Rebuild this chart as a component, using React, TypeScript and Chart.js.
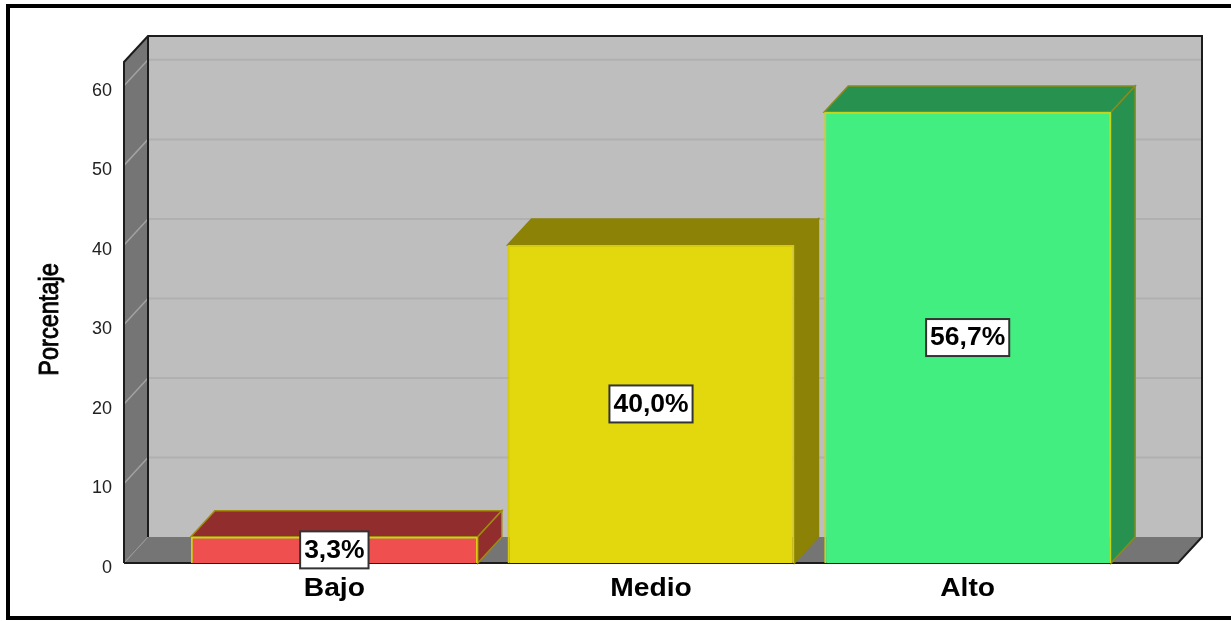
import React, { useEffect, useRef } from "react";
import { Chart, registerables } from "chart.js";

Chart.register(...registerables);

// Data
const categories = ["Bajo", "Medio", "Alto"];
const percentages = [3.3, 40.0, 56.7];
const yTicksStep = 10;
const yMax = 63;
const yTitle = "Porcentaje";

// Colours per bar
const frontColors = ["#ef4f4f", "#e3d80d", "#41ee7f"];
const sideColors = ["#912d2d", "#8c8206", "#27924f"];
const frontEdges = ["#e0c814", "#d6ca0c", "#c4d41c"];
const sideEdges = ["#a08a10", "#8c8206", "#8c8a1a"];

// Extruded look: how far the back plane sits from the front plane
const DEPTH_X = 24;
const DEPTH_Y = 26;
// The walls reach past the category band on both sides
const WALL_PAD = 52;

const SANS = '"Liberation Sans", Arial, sans-serif';

function poly(ctx: CanvasRenderingContext2D, pts: number[][], fill?: string, stroke?: string, lw = 1) {
  ctx.beginPath();
  pts.forEach(([x, y], i) => (i ? ctx.lineTo(x, y) : ctx.moveTo(x, y)));
  if (fill) {
    ctx.closePath();
    ctx.fillStyle = fill;
    ctx.fill();
  }
  if (stroke) {
    ctx.strokeStyle = stroke;
    ctx.lineWidth = lw;
    ctx.stroke();
  }
}

function stretchedText(
  ctx: CanvasRenderingContext2D,
  text: string,
  x: number,
  y: number,
  font: string,
  sx: number,
) {
  ctx.save();
  ctx.translate(x, y);
  ctx.scale(sx, 1);
  ctx.font = font;
  ctx.fillStyle = "#000";
  ctx.textAlign = "center";
  ctx.textBaseline = "middle";
  ctx.fillText(text, 0, 0);
  ctx.restore();
}

const box3d = {
  id: "box3d",
  beforeDatasetsDraw(chart: any) {
    const { ctx, chartArea, scales } = chart;
    const yScale = scales.y;
    const left = chartArea.left - WALL_PAD;
    const right = chartArea.right + WALL_PAD;
    const top = chartArea.top;
    const bottom = chartArea.bottom;
    const dx = DEPTH_X;
    const dy = DEPTH_Y;

    ctx.save();
    // back wall, left wall, floor
    poly(ctx, [[left + dx, top - dy], [right + dx, top - dy], [right + dx, bottom - dy], [left + dx, bottom - dy]], "#bebebe");
    poly(ctx, [[left, top], [left + dx, top - dy], [left + dx, bottom - dy], [left, bottom]], "#757575");
    poly(ctx, [[left, bottom], [left + dx, bottom - dy], [right + dx, bottom - dy], [right, bottom]], "#757575");

    // grid lines follow the wall and then the back plane
    yScale.ticks.forEach((t: any) => {
      if (t.value === 0) return;
      const y = yScale.getPixelForValue(t.value);
      poly(ctx, [[left, y], [left + dx, y - dy]], undefined, "#a2a2a2", 1.5);
      poly(ctx, [[left + dx, y - dy], [right + dx, y - dy]], undefined, "#b0b0b0", 2);
    });
    poly(ctx, [[left, bottom], [left + dx, bottom - dy]], undefined, "#999999", 1);

    // dark outline of the box
    const edge = "#1c1c1c";
    poly(ctx, [[left, bottom], [left, top], [left + dx, top - dy], [right + dx, top - dy], [right + dx, bottom - dy], [right, bottom], [left, bottom]], undefined, edge, 2);
    poly(ctx, [[left + dx, top - dy], [left + dx, bottom - dy]], undefined, edge, 2);

    // top and side faces of each bar
    const bars = chart.getDatasetMeta(0).data;
    bars.forEach((bar: any, i: number) => {
      const { x, y, width, base } = bar.getProps(["x", "y", "width", "base"], true);
      const l = x - width / 2;
      const r = x + width / 2;
      poly(ctx, [[l, y], [l + dx, y - dy], [r + dx, y - dy], [r, y]], sideColors[i], sideEdges[i], 1.5);
      poly(ctx, [[r, y], [r + dx, y - dy], [r + dx, base - dy], [r, base]], sideColors[i], sideEdges[i], 1.5);
    });
    ctx.restore();
  },
  afterDatasetsDraw(chart: any) {
    const { ctx, scales, chartArea } = chart;
    const bars = chart.getDatasetMeta(0).data;

    // value labels in white boxes at the middle of each bar
    const labelFont = `bold 25px ${SANS}`;
    percentages.forEach((v, i) => {
      const { x, y, base } = bars[i].getProps(["x", "y", "base"], true);
      const text = `${v.toFixed(1).replace(".", ",")}%`;
      const cy = (y + base) / 2;
      ctx.save();
      ctx.font = labelFont;
      const w = ctx.measureText(text).width * 1.06 + 8;
      const h = 37;
      ctx.fillStyle = "#ffffff";
      ctx.strokeStyle = "#333333";
      ctx.lineWidth = 2;
      ctx.fillRect(x - w / 2, cy - h / 2, w, h);
      ctx.strokeRect(x - w / 2, cy - h / 2, w, h);
      ctx.restore();
      stretchedText(ctx, text, x, cy + 1, labelFont, 1.06);
    });

    // category labels under the floor
    scales.x.ticks.forEach((_: any, i: number) => {
      stretchedText(ctx, scales.x.getLabelForValue(i), scales.x.getPixelForTick(i), chartArea.bottom + 26, `bold 25px ${SANS}`, 1.13);
    });

    // narrow, tall axis title
    ctx.save();
    ctx.translate(50, (chartArea.top + chartArea.bottom) / 2 + 7);
    ctx.rotate(-Math.PI / 2);
    ctx.scale(0.84, 1);
    ctx.font = `28px ${SANS}`;
    ctx.fillStyle = "#000";
    ctx.strokeStyle = "#000";
    ctx.lineWidth = 0.9;
    ctx.textAlign = "center";
    ctx.textBaseline = "middle";
    ctx.fillText(yTitle, 0, 0);
    ctx.strokeText(yTitle, 0, 0);
    ctx.restore();
  },
};

export default function App() {
  const ref = useRef<HTMLCanvasElement>(null);

  useEffect(() => {
    const chart = new Chart(ref.current!, {
      type: "bar",
      data: {
        labels: categories,
        datasets: [
          {
            data: percentages,
            backgroundColor: frontColors,
            borderColor: frontEdges,
            borderWidth: 2,
            categoryPercentage: 1,
            barPercentage: 0.906,
          },
        ],
      },
      options: {
        animation: false,
        responsive: false,
        maintainAspectRatio: false,
        layout: { padding: { top: 62, right: 105, left: 0, bottom: 0 } },
        plugins: { legend: { display: false }, tooltip: { enabled: false }, title: { display: false } },
        scales: {
          x: {
            grid: { display: false, drawTicks: false },
            border: { display: false },
            ticks: { display: false },
            afterFit: (s: any) => {
              s.height = 58;
            },
          },
          y: {
            min: 0,
            max: yMax,
            grid: { display: false, drawTicks: false },
            border: { display: false },
            ticks: {
              stepSize: yTicksStep,
              includeBounds: false,
              padding: 64,
              labelOffset: 5,
              color: "#222222",
              font: { family: SANS, size: 18 },
            },
            afterFit: (s: any) => {
              s.width = 176;
              // the first and last tick labels should not shrink the plot
              s.paddingTop = 0;
              s.paddingBottom = 0;
            },
          },
        },
      },
      plugins: [box3d],
    } as any);
    return () => chart.destroy();
  }, []);

  return (
    <div style={{ position: "absolute", left: 0, top: 0, width: 1231, height: 621, background: "#fff", overflow: "hidden" }}>
      <canvas ref={ref} width={1231} height={621} style={{ display: "block" }} />
      <div
        style={{
          position: "absolute",
          left: 6,
          top: 4,
          width: 1240,
          height: 608,
          border: "4px solid #000",
          pointerEvents: "none",
        }}
      />
    </div>
  );
}
